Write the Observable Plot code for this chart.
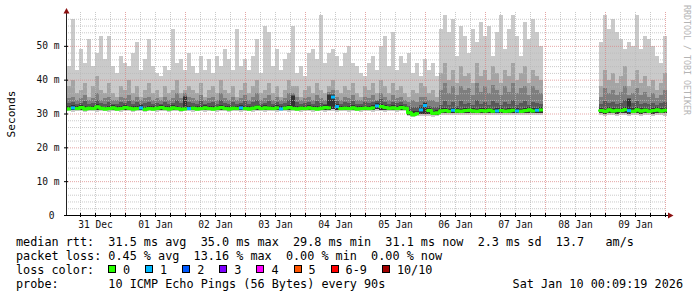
<!DOCTYPE html>
<html>
<head>
<meta charset="utf-8">
<script src="https://cdn.jsdelivr.net/npm/d3@7"></script>
<script src="https://cdn.jsdelivr.net/npm/@observablehq/plot@0.6"></script>
<style>
  body { margin: 0; background: #fff; }
  #wrap { position: relative; width: 697px; height: 297px; background: #fff; font-family: "DejaVu Sans Mono", monospace; overflow: hidden; }
  #chart { position: absolute; left: 0; top: 0; }
  .lg { position: absolute; font-size: 11.8px; line-height: 14px; white-space: pre; color: #000; }
  .box { position: absolute; width: 8px; height: 8px; box-sizing: border-box; border: 1px solid #000; }
  #ylab { position: absolute; left: 11px; top: 113.5px; transform: translate(-50%, -50%) rotate(-90deg); font-size: 11.2px; white-space: pre; color: #000; }
  #wm { position: absolute; left: 682px; top: 5px; writing-mode: vertical-rl; font-size: 8.3px; color: #b4b4b4; white-space: pre; line-height: 9px; }
</style>
</head>
<body>
<div id="wrap"><div id="chart"></div></div>
<script>
// ---------- data ----------
const sampleStart = "2025-12-31T00:48:00Z";
const stepMinutes = 96;
const xDomainText = ["2025-12-31T00:24:00Z", "2026-01-10T00:24:00Z"];

const maxRtt = [44,58,43,49,45,52,44,48,53,46,
 53,44,42,47,45,44,48,51,43,46,
 52,44,42,41,44,43,55,45,46,43,
 48,44,42,47,43,46,42,47,44,49,
 46,43,55,44,46,43,47,52,42,56,
 54,44,49,43,46,48,56,42,44,41,
 48,49,46,59,45,48,49,47,44,48,
 50,45,44,42,41,45,47,43,50,53,
 44,54,43,47,45,48,42,45,41,46,
 43,45,41,55,59,54,58,47,56,53,
 48,55,51,57,53,56,47,54,59,49,
 55,59,53,47,57,52,58,54,50,
 null,null,null,null,null,null,null,null,null,null,null,null,null,null,
 51,59,55,58,54,52,49,51,50,59,49,53,52,50,47,45,53];

const p9 = [38,40,36,37,39,35,38,41,37,36,
 39,36,35,38,37,40,36,38,35,37,
 39,36,37,35,38,36,37,40,36,37,
 38,37,36,39,35,37,38,36,40,37,
 36,38,35,37,39,36,38,40,36,37,
 39,36,38,35,37,40,38,38,35,37,
 38,36,39,37,36,38,40,37,36,38,
 37,39,36,35,38,37,39,36,40,38,
 36,39,37,38,36,35,37,36,39,38,
 36,37,35,42,45,40,43,39,44,41,
 42,39,45,41,43,40,44,42,39,43,
 41,45,40,42,44,39,43,41,40,
 null,null,null,null,null,null,null,null,null,null,null,null,null,null,
 38,43,40,42,39,41,44,38,40,43,39,41,38,40,37,39,42];

const p8 = [34.5,35,34,34.5,35.5,34,34.5,36,34,34.5,
 35,34,34,35,34.5,35.5,34,35,34,34.5,
 35,34,34.5,34,35,34,34.5,36,34.5,36,
 35,34.5,34,35.5,34,34.5,35,34,36,34.5,
 34,35,34,34.5,35.5,34,35,36,34,34.5,
 35.5,34,35,34,34.5,36,36.2,35,34,34.5,
 35,34,35.5,34.5,34,36.5,37,35,34,35,
 34.5,35.5,34,34,35,34.5,35.5,34,36,35,
 34,35.5,34.5,35,34,33.5,34,33.5,35,35,
 34,34,33.5,37,39,36,38,35.5,38,37,
 37.5,35.5,39,36.5,38,36,38.5,37,35.5,38,
 36.5,39,36,37.5,38,35.5,38,37,36,
 null,null,null,null,null,null,null,null,null,null,null,null,null,null,
 35,37.5,36,37,35.5,36.5,38,35.5,36,37.5,35.5,36.5,35,36,34.5,35.5,37];

const p7 = [33,33.5,32.8,33.2,33.6,32.9,33.1,34,33,32.9,
 33.4,32.8,32.7,33.3,33,33.6,32.9,33.4,32.8,33.1,
 33.5,32.9,33,32.8,33.3,32.8,33.1,34,33,35.3,
 33.4,33.1,32.8,33.6,32.9,33.2,33.4,32.9,34,33.1,
 32.8,33.4,32.9,33.1,33.6,32.8,33.3,34,32.9,33.2,
 33.6,32.9,33.4,32.8,33.1,34,35.6,33.3,32.8,33.1,
 33.4,32.9,33.6,33.1,32.9,35.8,35.9,33.6,32.9,33.3,
 33.1,33.6,32.8,32.9,33.4,33.1,33.5,33.6,34.2,33.4,
 32.9,33.5,33,33.4,32.9,32.2,31.8,31.9,32.6,33.5,
 32.2,31.9,31.8,32.6,33.8,32.5,33.4,32.3,33.6,32.8,
 33.2,32.4,33.9,32.7,33.4,32.5,33.6,33,32.4,33.5,
 32.8,34,32.6,33.2,33.6,32.5,33.4,33,32.7,
 null,null,null,null,null,null,null,null,null,null,null,null,null,null,
 32.8,33.6,33,33.3,32.7,33.2,34,34.6,33.1,33.7,32.8,33.2,32.7,33,32.5,33,33.5];

const p6 = [32.1,32.6,32.2,32.4,32.1,32.3,32.2,32.7,32.3,32.0,
 32.2,32.4,32.1,32.2,32.5,32.3,32.1,32.2,32.4,32.0,
 32.2,32.1,32.3,32.5,32.2,32.1,32.4,32.2,32.0,35.0,
 32.2,32.3,32.1,32.2,32.4,32.2,32.1,32.3,32.5,32.2,
 32.1,32.3,32.2,32.4,32.2,32.1,32.3,32.6,32.2,32.4,
 32.3,32.2,32.4,32.1,32.3,32.5,35.2,32.1,32.3,32.2,
 32.4,32.2,32.1,32.3,32.5,35.5,35.6,32.8,32.2,32.3,
 32.2,32.4,32.1,32.2,32.3,32.2,32.4,33.0,32.8,32.5,
 32.3,32.4,32.2,32.5,32.3,31.0,30.6,30.7,31.8,33.2,
 31.6,30.8,30.9,31.5,31.6,31.4,31.7,31.5,31.4,31.6,
 31.7,31.5,31.4,31.6,31.5,31.7,31.4,31.5,31.6,31.4,
 31.5,31.7,31.5,31.4,31.6,31.8,31.5,31.7,31.8,
 null,null,null,null,null,null,null,null,null,null,null,null,null,null,
 31.6,31.4,31.8,31.5,31.7,31.6,31.9,34.3,31.6,31.8,31.5,31.7,31.4,31.6,31.8,31.5,31.7];

const median = [31.5,31.8,31.6,31.9,31.5,31.7,31.6,32.1,31.7,31.5,
 31.6,31.8,31.5,31.6,31.9,31.7,31.5,31.6,31.8,31.4,
 31.6,31.5,31.7,31.9,31.6,31.5,31.8,31.6,31.4,31.5,
 31.6,31.7,31.5,31.6,31.8,31.6,31.5,31.7,31.9,31.6,
 31.5,31.7,31.6,31.8,31.6,31.5,31.7,32.0,31.6,31.8,
 31.7,31.6,31.8,31.5,31.7,31.9,31.6,31.5,31.7,31.6,
 31.8,31.6,31.5,31.7,31.9,31.8,35.0,32.2,31.6,31.7,
 31.6,31.8,31.5,31.6,31.7,31.6,31.8,32.4,32.2,31.9,
 31.7,31.8,31.6,31.9,31.7,30.4,29.8,30.1,31.2,32.5,
 31.0,30.2,30.3,30.9,31.0,30.8,31.1,30.9,30.8,31.0,
 31.1,30.9,30.8,31.0,30.9,31.1,30.8,30.9,31.0,30.8,
 30.9,31.1,30.9,30.8,31.0,31.2,30.9,31.1,31.2,
 null,null,null,null,null,null,null,null,null,null,null,null,null,null,
 31.0,30.8,31.2,30.9,31.1,31.0,31.3,31.0,30.8,31.2,30.9,31.1,30.8,31.0,31.2,30.9,31.1];

const lo = [31.0,31.1,31.0,31.1,31.0,31.0,31.1,31.0,31.1,31.0,
 31.1,31.0,31.0,31.1,31.0,31.1,31.0,31.0,31.1,31.0,
 31.0,31.1,31.0,31.0,31.1,31.0,31.1,31.0,31.0,31.1,
 31.0,31.1,31.0,31.0,31.1,31.0,31.0,31.1,31.0,31.1,
 31.0,31.0,31.1,31.0,31.1,31.0,31.0,31.1,31.0,31.1,
 31.1,31.0,31.1,31.0,31.0,31.1,31.0,31.0,31.1,31.0,
 31.1,31.0,31.0,31.1,31.0,31.1,31.2,31.1,31.0,31.1,
 31.0,31.1,31.0,31.0,31.1,31.0,31.1,31.2,31.1,31.0,
 31.1,31.0,31.0,31.1,31.0,29.7,29.5,29.6,29.8,29.9,
 29.8,29.6,29.7,30.2,30.1,30.2,30.2,30.1,30.2,30.2,
 30.1,30.2,30.2,30.1,30.2,30.2,30.1,30.2,30.2,30.1,
 30.2,30.2,30.1,30.2,30.2,30.1,30.2,30.2,30.1,
 null,null,null,null,null,null,null,null,null,null,null,null,null,null,
 30.1,30.0,30.1,30.1,30.0,30.1,30.1,30.0,30.1,30.1,30.0,30.1,30.1,30.0,30.1,30.1,30.2];

const minRtt = [30.6,30.5,30.6,30.6,30.5,30.6,30.7,30.5,30.6,30.6,
 30.5,30.6,30.6,30.5,30.6,30.6,30.5,30.6,30.7,30.5,
 30.6,30.6,30.5,30.6,30.6,30.5,30.6,30.6,30.5,30.6,
 30.6,30.5,30.6,30.6,30.5,30.6,30.6,30.5,30.6,30.6,
 30.5,30.6,30.6,30.5,30.6,30.6,30.5,30.6,30.6,30.5,
 30.6,30.6,30.5,30.6,30.6,30.5,30.6,30.6,30.5,30.6,
 30.6,30.5,30.6,30.6,30.5,30.6,30.6,30.5,30.6,30.6,
 30.5,30.6,30.6,30.5,30.6,30.6,30.5,30.6,30.6,30.5,
 30.6,30.6,30.5,30.6,30.6,29.3,29.1,29.2,29.3,29.2,
 29.3,29.1,29.2,29.6,29.5,29.6,29.5,29.6,29.5,29.6,
 29.5,29.6,29.5,29.5,29.6,29.5,29.6,29.5,29.5,29.6,
 29.5,29.6,29.5,29.5,29.6,29.5,29.6,29.5,29.6,
 null,null,null,null,null,null,null,null,null,null,null,null,null,null,
 29.5,29.4,29.5,29.5,29.4,29.5,29.5,29.4,29.5,29.5,29.4,29.5,29.5,29.4,29.5,29.5,29.4];

const loss = [0,1,0,0,0,0,0,0,0,0,
 0,0,0,0,0,0,0,0,1,0,
 0,0,0,0,0,0,0,0,0,0,
 1,0,0,0,0,0,0,0,0,0,
 0,0,0,1,0,0,0,0,0,0,
 0,0,0,1,0,0,0,0,0,0,
 0,0,0,0,0,0,1,1,0,0,
 0,0,0,0,0,0,0,1,0,0,
 0,0,0,0,0,0,0,0,1,1,
 0,0,0,0,0,0,1,0,0,0,
 0,0,0,0,0,0,0,1,0,0,
 0,0,1,0,0,0,0,1,0,
 null,null,null,null,null,null,null,null,null,null,null,null,null,null,
 0,0,0,0,0,0,0,1,0,0,0,0,0,0,0,0,0];

const dayDates = ["2025-12-31","2026-01-01","2026-01-02","2026-01-03","2026-01-04","2026-01-05","2026-01-06","2026-01-07","2026-01-08","2026-01-09"];
const dayLabels = ["31 Dec","01 Jan","02 Jan","03 Jan","04 Jan","05 Jan","06 Jan","07 Jan","08 Jan","09 Jan"];
const yTickValues = [0, 10, 20, 30, 40, 50];
const yTickLabels = ["0", "10 m", "20 m", "30 m", "40 m", "50 m"];

const smokeFills = ["#cacaca", "#a4a4a4", "#7e7e7e", "#585858", "#323232"];
const lossLabels = ["0", "1", "2", "3", "4", "5", "6-9", "10/10"];
const lossColors = ["#26ff00", "#00b8ff", "#0059ff", "#7e00ff", "#ff00ff", "#ff5500", "#ff0000", "#a10000"];

const yLabelText = "Seconds";
const watermarkText = "RRDTOOL / TOBI OETIKER";
const line1 = "median rtt:  31.5 ms avg  35.0 ms max  29.8 ms min  31.1 ms now  2.3 ms sd  13.7   am/s";
const line2 = "packet loss: 0.45 % avg  13.16 % max  0.00 % min  0.00 % now";
const line3 = "loss color:";
const line4 = "probe:       10 ICMP Echo Pings (56 Bytes) every 90s";
const dateText = "Sat Jan 10 00:09:19 2026";

// ---------- build ----------
const t0ms = Date.parse(sampleStart);
const stepMs = stepMinutes * 60000;
const rows = maxRtt.map((v, i) => ({
  t0: new Date(t0ms + i * stepMs), t1: new Date(t0ms + (i + 1) * stepMs),
  max: v, p9: p9[i], p8: p8[i], p7: p7[i], p6: p6[i],
  median: median[i], lo: lo[i], min: minRtt[i], loss: loss[i],
  medianGreen: loss[i] === 0 ? median[i] : null
}));
const valid = rows.filter(d => d.max != null);

const xDomain = xDomainText.map(s => new Date(s));
const minorX = d3.utcHour.every(6).range(xDomain[0], xDomain[1]).filter(d => d.getUTCHours() !== 0);
const majorX = d3.utcDay.range(xDomain[0], xDomain[1]);
const allTickX = d3.utcHour.every(6).range(xDomain[0], xDomain[1]);
const minorY = d3.range(2, 60, 2).filter(v => v % 10 !== 0);
const majorY = [10, 20, 30, 40, 50];
const xTicks = dayDates.map((d, i) => ({t: new Date(d + "T12:00:00Z"), label: dayLabels[i]}));
const yTicks = yTickValues.map((v, i) => ({v, label: yTickLabels[i]}));

const layers = [
  {lo: "min", hi: "max"}, {lo: "lo", hi: "p9"}, {lo: "lo", hi: "p8"}, {lo: "lo", hi: "p7"}, {lo: "lo", hi: "p6"}
];

const gridMinor = {stroke: "#b8b8b8", strokeOpacity: 0.75, strokeDasharray: "1,1"};
const gridMajor = {stroke: "#d88080", strokeOpacity: 0.7, strokeDasharray: "1,1"};

const plot = Plot.plot({
  width: 697, height: 232,
  marginLeft: 66, marginRight: 31, marginTop: 12, marginBottom: 17,
  style: {fontFamily: '"DejaVu Sans Mono", monospace', fontSize: "9.6px", background: "transparent", overflow: "visible"},
  x: {type: "utc", domain: xDomain, axis: null},
  y: {domain: [0, 60], axis: null},
  marks: [
    ...layers.map((l, k) => Plot.rect(valid, {x1: "t0", x2: "t1", y1: l.lo, y2: l.hi, fill: smokeFills[k], shapeRendering: "crispEdges"})),
    Plot.ruleX(minorX, gridMinor),
    Plot.ruleY(minorY, gridMinor),
    Plot.ruleX(majorX, gridMajor),
    Plot.ruleY(majorY, gridMajor),
    Plot.line(rows, {x: "t0", y: "medianGreen", curve: "step-after", stroke: lossColors[0], strokeWidth: 3}),
    Plot.ruleY(valid.filter(d => d.loss === 0), {y: "median", x1: "t0", x2: "t1", stroke: lossColors[0], strokeWidth: 3}),
    Plot.ruleY(valid.filter(d => d.loss === 1), {y: "median", x1: "t0", x2: "t1", stroke: lossColors[1], strokeWidth: 3}),
    // axes
    Plot.ruleX([xDomain[0]], {stroke: "#222", insetTop: -3}),
    Plot.ruleY([0], {stroke: "#000", insetRight: -4}),
    Plot.ruleX(allTickX, {y1: () => 0, y2: () => 0, insetTop: -2, insetBottom: -2, stroke: "#000"}),
    Plot.ruleY(yTickValues, {x1: () => xDomain[0], x2: () => xDomain[0], insetLeft: -2, insetRight: -2, stroke: "#000"}),
    Plot.text(xTicks, {x: "t", text: "label", frameAnchor: "bottom", lineAnchor: "middle", textAnchor: "middle", dy: 9, fill: "#111"}),
    Plot.text(yTicks.filter(d => d.v !== 0), {y: "v", text: "label", frameAnchor: "left", lineAnchor: "middle", textAnchor: "end", dx: -7, fill: "#111"}),
    Plot.text(yTicks.filter(d => d.v === 0), {y: "v", text: "label", frameAnchor: "left", lineAnchor: "middle", textAnchor: "end", dx: -12, fill: "#111"})
  ]
});
document.getElementById("chart").appendChild(plot);

// axis arrows, placed through the scales
let fx, fy;
try { const sx = plot.scale("x"), sy = plot.scale("y"); fx = v => sx.apply(v); fy = v => sy.apply(v); }
catch (e) { fx = d3.scaleUtc(xDomain, [66, 666]); fy = d3.scaleLinear([0, 60], [215, 12]); }
const svg = d3.select(plot);
const axR = fx(xDomain[1]), axY = fy(0);
svg.append("path").attr("d", `M${axR + 2},${axY - 2.5}L${axR + 7.5},${axY + 0.5}L${axR + 2},${axY + 3.5}Z`).attr("fill", "#8b1010");
const ayX = fx(xDomain[0]), ayT = fy(60);
svg.append("path").attr("d", `M${ayX - 2.5},${ayT + 1.5}L${ayX + 0.5},${ayT - 4}L${ayX + 3.5},${ayT + 1.5}Z`).attr("fill", "#8b1010");

// texts around the chart
const wrap = document.getElementById("wrap");
function addDiv(cls, text, style) {
  const d = document.createElement("div");
  if (cls) d.className = cls;
  if (text != null) d.textContent = text;
  Object.assign(d.style, style || {});
  wrap.appendChild(d);
  return d;
}
const yl = addDiv(null, yLabelText); yl.id = "ylab";
const wm = addDiv(null, watermarkText); wm.id = "wm";
const charW = 7.1;
const lineTops = [235, 249, 263, 277];
addDiv("lg", line1, {left: "16px", top: lineTops[0] + "px"});
addDiv("lg", line2, {left: "16px", top: lineTops[1] + "px"});
addDiv("lg", line3, {left: "16px", top: lineTops[2] + "px"});
let bx = 108;
lossLabels.forEach((lab, k) => {
  addDiv("box", null, {left: bx + "px", top: (lineTops[2] + 2) + "px", background: lossColors[k]});
  addDiv("lg", lab, {left: (bx + 15) + "px", top: lineTops[2] + "px"});
  bx = bx + 15 + lab.length * charW + 15;
});
addDiv("lg", line4, {left: "16px", top: lineTops[3] + "px"});
addDiv("lg", dateText, {right: "14px", top: lineTops[3] + "px"});
</script>
</body>
</html>
